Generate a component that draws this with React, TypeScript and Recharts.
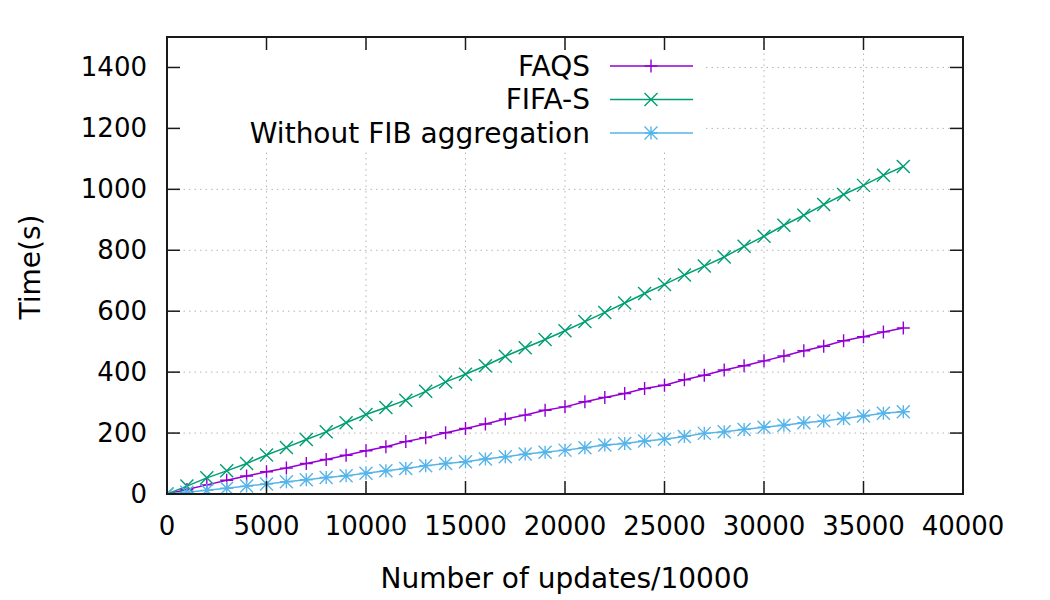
import {
  CartesianGrid,
  Legend,
  Line,
  LineChart,
  XAxis,
  YAxis,
} from 'recharts';

const updates = [
  0, 1000, 2000, 3000, 4000, 5000, 6000, 7000, 8000, 9000,
  10000, 11000, 12000, 13000, 14000, 15000, 16000, 17000, 18000, 19000,
  20000, 21000, 22000, 23000, 24000, 25000, 26000, 27000, 28000, 29000,
  30000, 31000, 32000, 33000, 34000, 35000, 36000, 37000,
];
const faqs = [
  0, 15, 30, 45, 59, 73, 85, 100, 113, 127,
  142, 155, 172, 185, 201, 215, 230, 246, 259, 275,
  286, 303, 317, 330, 346, 357, 375, 390, 407, 421,
  437, 453, 470, 485, 503, 516, 532, 545,
];
const fifaS = [
  0, 26, 53, 76, 100, 128, 153, 179, 204, 234,
  261, 284, 308, 337, 368, 393, 421, 452, 480, 507,
  536, 566, 596, 627, 658, 688, 719, 748, 778, 813,
  846, 882, 915, 950, 983, 1013, 1046, 1075,
];
const withoutAgg = [
  0, 6, 12, 19, 26, 33, 40, 47, 54, 60,
  68, 76, 84, 93, 100, 106, 115, 122, 131, 137,
  144, 152, 161, 166, 174, 180, 189, 199, 204, 212,
  219, 226, 234, 240, 248, 256, 265, 270,
];
const xTicks = [0, 5000, 10000, 15000, 20000, 25000, 30000, 35000, 40000];
const yTicks = [0, 200, 400, 600, 800, 1000, 1200, 1400];
const xDomain: [number, number] = [0, 40000];
const yDomain: [number, number] = [0, 1500];

const data = updates.map((u, i) => ({
  u,
  faqs: faqs[i],
  fifa: fifaS[i],
  without: withoutAgg[i],
}));

const FONT = '"DejaVu Sans", Verdana, sans-serif';
const BORDER = '#1a1a1a';
const W = 1050;
const H = 600;
const margin = { top: 37, right: 87, bottom: 0, left: 0 };
const Y_AXIS_W = 167;
const X_AXIS_H = 106;
const TICK_LEN = 13;

// plot box, derived from the margins/axis sizes above
const plot = {
  left: margin.left + Y_AXIS_W,
  right: W - margin.right,
  top: margin.top,
  bottom: H - margin.bottom - X_AXIS_H,
};

type MarkerKind = 'plus' | 'cross' | 'star';

function Marker({ kind, cx, cy, color }: { kind: MarkerKind; cx: number; cy: number; color: string }) {
  const s = 6.5;
  const plus = `M${cx - s},${cy}H${cx + s}M${cx},${cy - s}V${cy + s}`;
  const cross = `M${cx - s},${cy - s}L${cx + s},${cy + s}M${cx - s},${cy + s}L${cx + s},${cy - s}`;
  const d = kind === 'plus' ? plus : kind === 'cross' ? cross : plus + cross;
  return <path d={d} stroke={color} strokeWidth={1.4} fill="none" />;
}

function BottomTick({ x, y, payload }: any) {
  return (
    <text x={x} y={y} textAnchor="middle" dominantBaseline="central" fontSize={26} fontFamily={FONT} fill="#000">
      {payload.value}
    </text>
  );
}

function LeftTick({ x, y, payload }: any) {
  return (
    <text x={x} y={y} textAnchor="end" dominantBaseline="central" fontSize={26} fontFamily={FONT} fill="#000">
      {payload.value}
    </text>
  );
}

// gnuplot-style border with inward tick marks on all four sides
function Frame() {
  const sx = (v: number) => plot.left + ((v - xDomain[0]) / (xDomain[1] - xDomain[0])) * (plot.right - plot.left);
  const sy = (v: number) => plot.bottom - ((v - yDomain[0]) / (yDomain[1] - yDomain[0])) * (plot.bottom - plot.top);
  return (
    <svg width={W} height={H} style={{ position: 'absolute', left: 0, top: 0, pointerEvents: 'none' }}>
      <g stroke={BORDER} strokeWidth={1.5}>
        {xTicks.map((t) => (
          <g key={`x${t}`}>
            <line x1={sx(t)} x2={sx(t)} y1={plot.bottom} y2={plot.bottom - TICK_LEN} />
            <line x1={sx(t)} x2={sx(t)} y1={plot.top} y2={plot.top + TICK_LEN} />
          </g>
        ))}
        {yTicks.map((t) => (
          <g key={`y${t}`}>
            <line x1={plot.left} x2={plot.left + TICK_LEN} y1={sy(t)} y2={sy(t)} />
            <line x1={plot.right} x2={plot.right - TICK_LEN} y1={sy(t)} y2={sy(t)} />
          </g>
        ))}
      </g>
      <rect
        x={plot.left}
        y={plot.top}
        width={plot.right - plot.left}
        height={plot.bottom - plot.top}
        fill="none"
        stroke={BORDER}
        strokeWidth={2}
      />
    </svg>
  );
}

const series: { key: string; name: string; color: string; kind: MarkerKind }[] = [
  { key: 'faqs', name: 'FAQS', color: '#9400d3', kind: 'plus' },
  { key: 'fifa', name: 'FIFA-S', color: '#009e73', kind: 'cross' },
  { key: 'without', name: 'Without FIB aggregation', color: '#56b4e9', kind: 'star' },
];

function KeyBox() {
  return (
    <svg width={524} height={99} style={{ display: 'block' }}>
      {series.map((s, i) => {
        const y = 15 + i * 33.5;
        return (
          <g key={s.key}>
            <text
              x={409}
              y={y}
              textAnchor="end"
              dominantBaseline="central"
              fontSize={28}
              fontFamily={FONT}
              fill="#000"
            >
              {s.name}
            </text>
            <line x1={429} x2={512} y1={y} y2={y} stroke={s.color} strokeWidth={1.5} />
            <Marker kind={s.kind} cx={470} cy={y} color={s.color} />
          </g>
        );
      })}
    </svg>
  );
}

export default function App() {
  return (
    <div style={{ position: 'absolute', left: 0, top: 0, width: W, height: H, background: '#fff' }}>
      <LineChart width={W} height={H} data={data} margin={margin}>
        <CartesianGrid stroke="#b4b4b4" strokeDasharray="1.5 4" strokeWidth={1} />
        <XAxis
          dataKey="u"
          type="number"
          domain={xDomain}
          ticks={xTicks}
          allowDataOverflow
          height={X_AXIS_H}
          tick={<BottomTick />}
          tickLine={false}
          tickSize={0}
          tickMargin={32}
          axisLine={false}
          label={{
            content: () => (
              <text x={565} y={578} textAnchor="middle" dominantBaseline="central" fontSize={28} fontFamily={FONT} fill="#000">
                Number of updates/10000
              </text>
            ),
          }}
        />
        <YAxis
          type="number"
          domain={yDomain}
          ticks={yTicks}
          allowDataOverflow
          width={Y_AXIS_W}
          tick={<LeftTick />}
          tickLine={false}
          tickSize={0}
          tickMargin={20}
          axisLine={false}
          label={{
            content: () => (
              <text
                x={30}
                y={267}
                transform="rotate(-90 30 267)"
                textAnchor="middle"
                dominantBaseline="central"
                fontSize={28}
                fontFamily={FONT}
                fill="#000"
              >
                Time(s)
              </text>
            ),
          }}
        />
        <Legend
          layout="horizontal"
          verticalAlign="middle"
          content={() => <KeyBox />}
          wrapperStyle={{
            position: 'absolute',
            left: 181,
            top: 51,
            width: 524,
            height: 99,
            background: '#fff',
          }}
        />
        {series.map((s) => (
          <Line
            key={s.key}
            dataKey={s.key}
            name={s.name}
            stroke={s.color}
            strokeWidth={1.5}
            type="linear"
            isAnimationActive={false}
            dot={(p: any) => (
              <Marker key={`${s.key}-${p.index}`} kind={s.kind} cx={p.cx} cy={p.cy} color={s.color} />
            )}
            activeDot={false}
          />
        ))}
      </LineChart>
      <Frame />
    </div>
  );
}
